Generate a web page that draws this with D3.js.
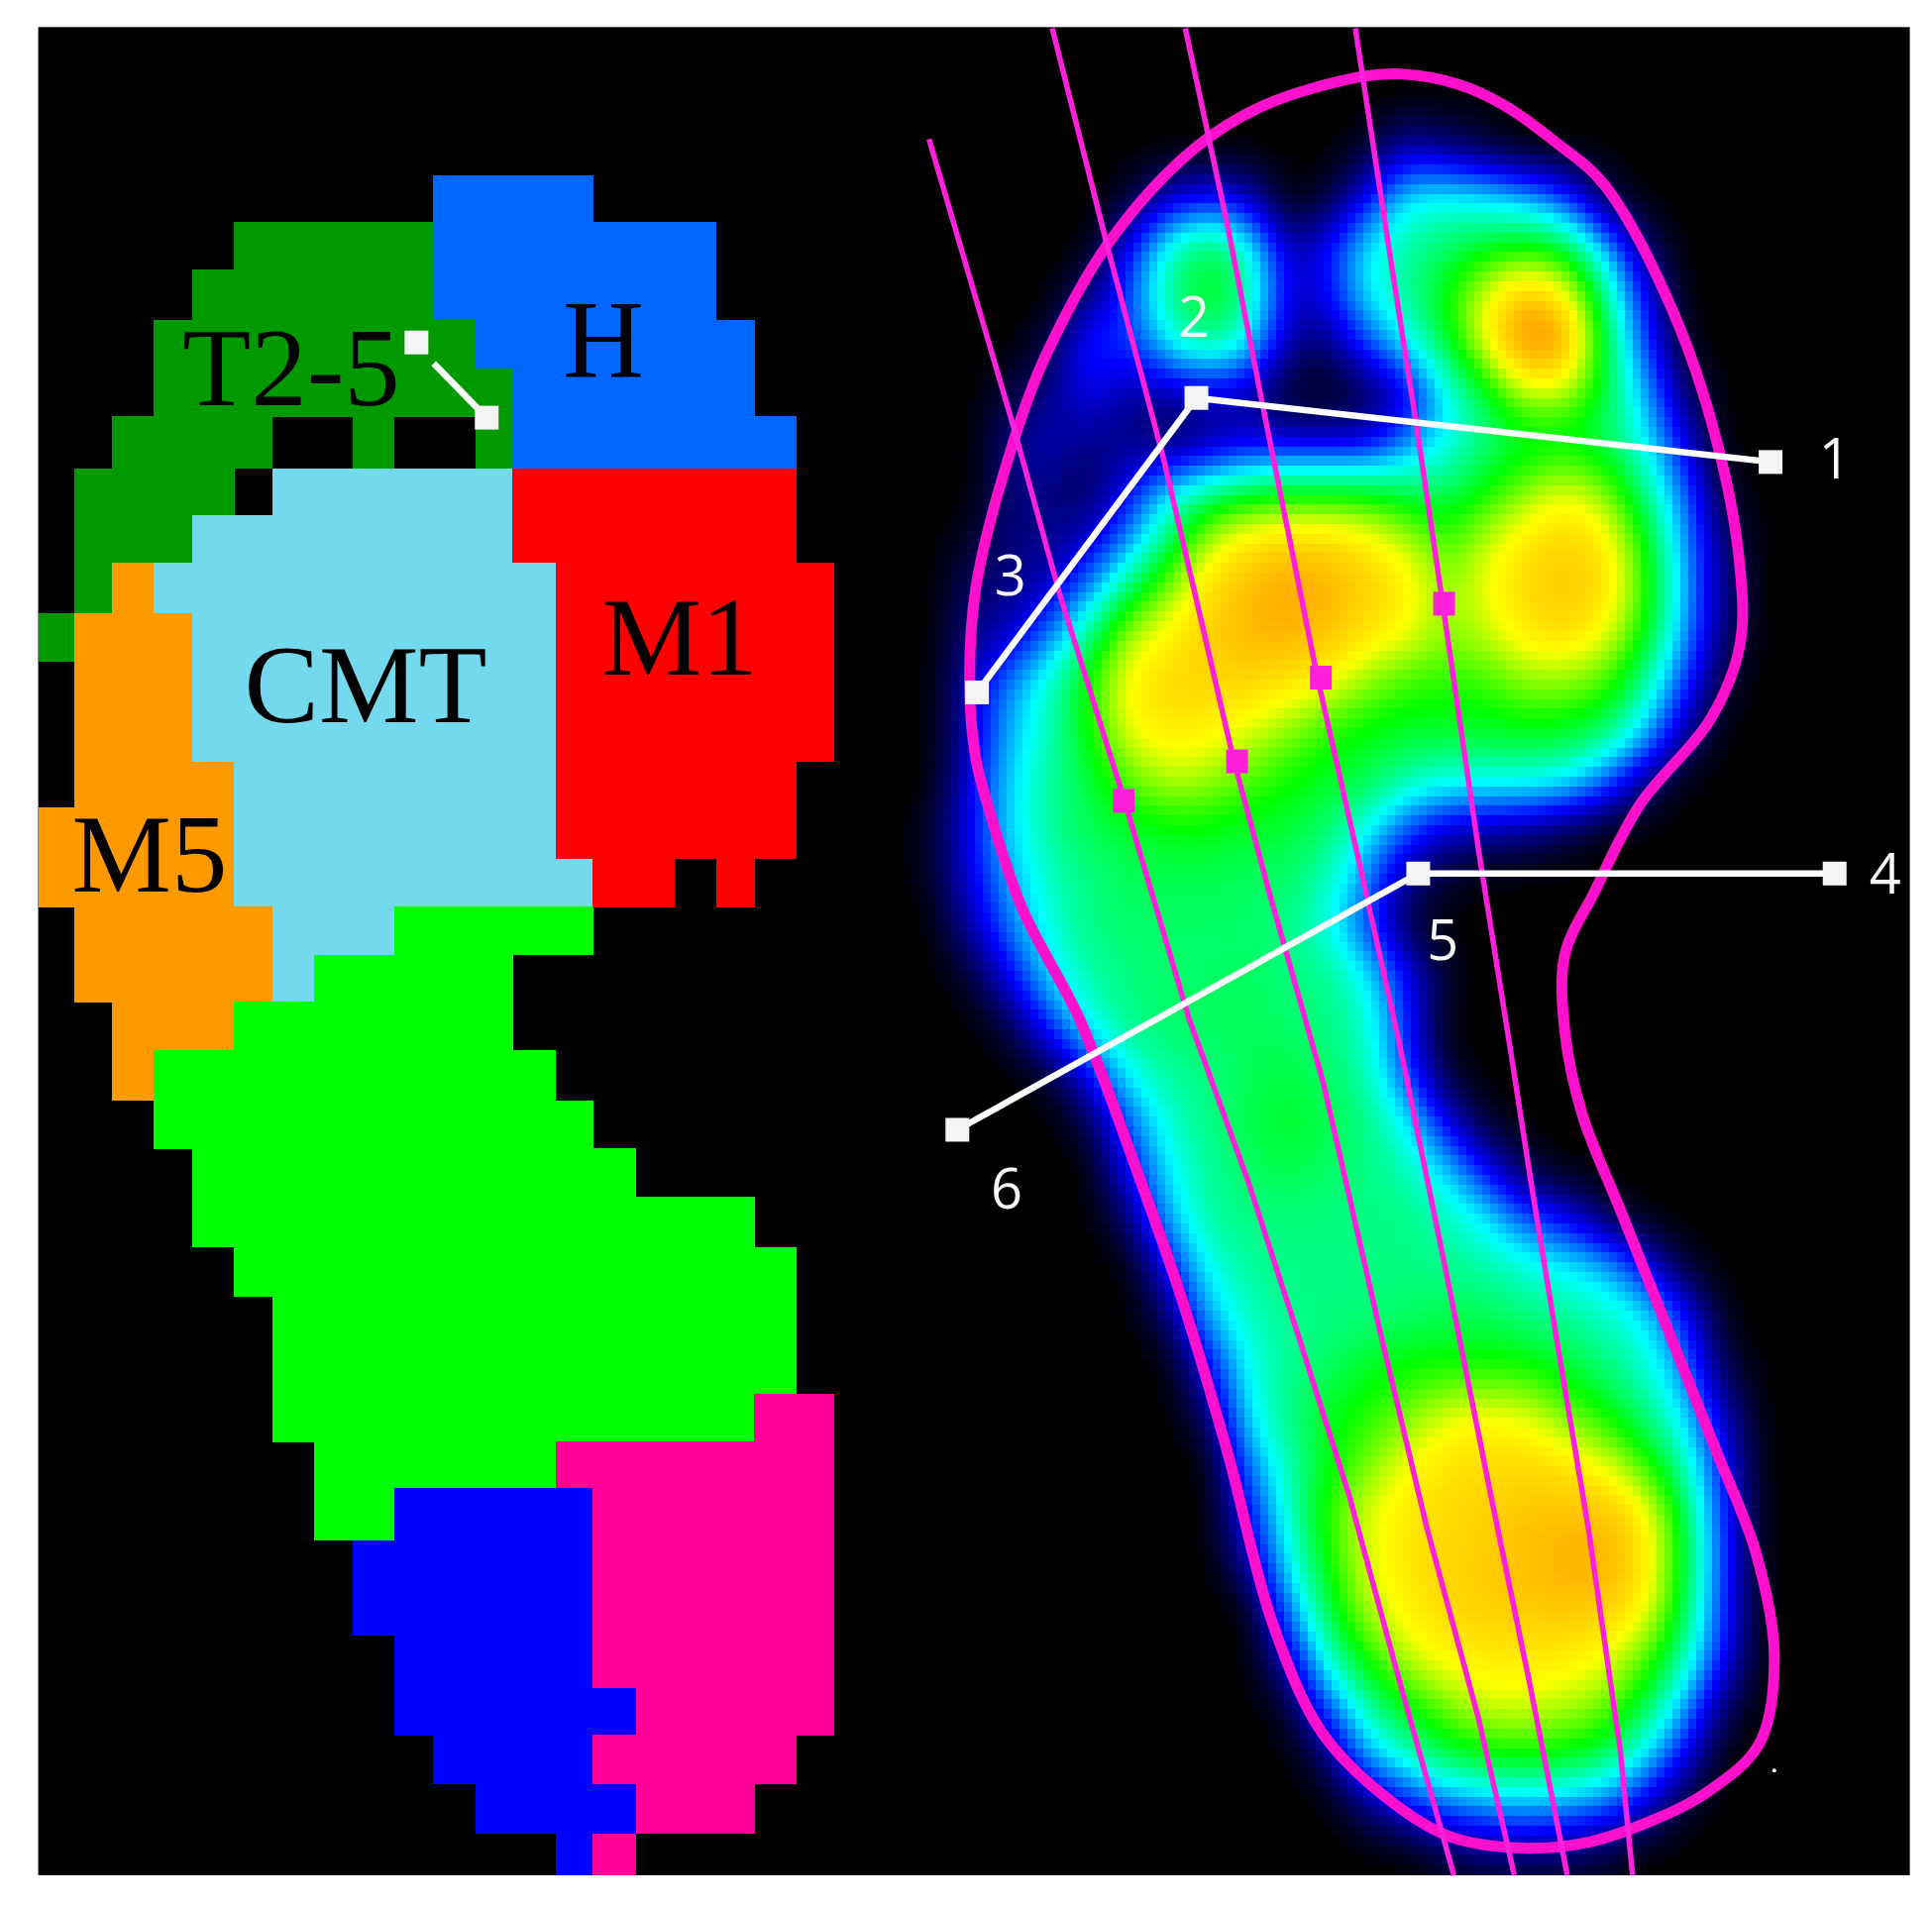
<!DOCTYPE html>
<html>
<head>
<meta charset="utf-8">
<style>
  html, body { margin: 0; padding: 0; background: #fff; }
  svg { display: block; }
</style>
<script src="https://cdn.jsdelivr.net/npm/d3@7"></script>
</head>
<body>
<svg id="chart" width="1950" height="1924"></svg>
<script>
//region map, one string per sensor row, one letter per sensor column
var regionRows = [
  "..........HHHH......",
  ".....TTTTTHHHHHHH...",
  "....TTTTTTHHHHHHH...",
  "...TTTTTTTTHHHHHHH..",
  "...TTTTTTTTTHHHHHH..",
  "..TTTT..T..THHHHHHH.",
  ".TTTT.CCCCCCRRRRRRR.",
  ".TTTCCCCCCCCRRRRRRR.",
  ".TOCCCCCCCCCCRRRRRRR",
  "TOOOCCCCCCCCCRRRRRRR",
  ".OOOCCCCCCCCCRRRRRRR",
  ".OOOCCCCCCCCCRRRRRRR",
  ".OOOOCCCCCCCCRRRRRR.",
  "OOOOOCCCCCCCCRRRRRR.",
  "OOOOOCCCCCCCCCRR.R..",
  ".OOOOOCCCGGGGG......",
  ".OOOOOCGGGGG........",
  "..OOOGGGGGGG........",
  "..OGGGGGGGGGG.......",
  "...GGGGGGGGGGG......",
  "....GGGGGGGGGGG.....",
  "....GGGGGGGGGGGGGG..",
  ".....GGGGGGGGGGGGGG.",
  "......GGGGGGGGGGGGG.",
  "......GGGGGGGGGGGGG.",
  "......GGGGGGGGGGGGPP",
  ".......GGGGGGPPPPPPP",
  ".......GGBBBBBPPPPPP",
  "........BBBBBBPPPPPP",
  "........BBBBBBPPPPPP",
  ".........BBBBBPPPPPP",
  ".........BBBBBBPPPPP",
  "..........BBBBPPPPP.",
  "...........BBBBPPP..",
  ".............BP....."
];
var regionKeys = ["T", "H", "C", "R", "O", "G", "B", "P"];
var regionColors = ["#009900", "#0066ff", "#75d9ee", "#ff0000", "#ff9900", "#00ff00", "#0000ff", "#ff0099"];
var regionNames = ["T2-5", "H", "CMT", "M1", "M5"];
var regionNameX = [294, 609, 369, 686, 151];
var regionNameY = [409, 380, 729, 681, 900];

//the sensor cells of the original are not even, so the cell borders are kept
var regionColEdges = [31,60,91,125,156,190,221,255,286,320,351,386,416,451,481,516,547,581,612,646,677];
var regionRowEdges = [142,180,219,260,299,338,380,418,457,498,537,577,618,655,697,736,775,813,852,893,932,971,1012,1052,1091,1131,1170,1208,1250,1288,1327,1370,1408,1448,1488,1522];

//pressure, 0 = black, 10 = orange
var pressure = [
  [0,0,0,0,0,0,0,0,0,0,0,.3,1.5,1,.5,0,0,0,0,0,0,0],
  [0,0,0,0,0,.3,1.5,2,1.5,0,.3,2,4,4.2,4,3.5,2.5,.5,0,0,0,0],
  [0,0,0,0,0,2,4.5,5.6,4.5,1.2,2,4,4.8,5.2,5.6,6,5.6,3.5,.8,0,0,0],
  [0,0,0,0,1,2.5,5,6,5,1.5,1.8,4,4.8,6,8,9.5,8.5,5,2,0,0,0],
  [0,0,0,.5,2.5,2.2,4,5,4,1.2,.8,2.5,4,5.5,8,10.5,10,5.5,2.5,.2,0,0],
  [0,0,.5,1,2,1.2,1.2,1.5,1.2,.2,0,.5,1.5,4,5.5,7.5,7.5,5.5,3.5,.8,0,0],
  [0,0,1,1.5,1,1,.5,1,1.5,1.5,1.5,1.5,3,4,5,5.5,5.5,5.3,4,1.8,0,0],
  [0,0,1,1,.6,2,3.8,4.8,5.5,5.8,5.8,5.8,5.2,5.2,6,7,8,7,5,2.8,.3,0],
  [0,.3,1,1,1.5,3,5.2,7.5,8.5,8.8,8.8,8.3,7.5,6.3,7.5,8.5,8.8,8.5,6,3.2,.8,0],
  [0,.8,1,1.5,3,5.2,7,8.7,9.3,9.8,9.5,9,8.4,7,8,8.8,9.2,8.8,6.5,3.4,1,0],
  [0,1,1.5,3,5,7.5,8.3,9,9.4,9.5,9.2,8.5,8,7,7.5,8.4,8.7,8,6,3.2,.8,0],
  [0,1.5,3.2,4.5,6.2,8.3,8.8,8.8,8.8,8.5,8,7,6.3,6.2,6.3,7,7,6.5,4.8,2.4,.3,0],
  [0,1.5,3.5,4.5,6,8,8.4,8.2,7.7,7,6.2,5.8,5.7,5.7,5.7,5.8,5.7,5.2,3.7,1.2,0,0],
  [0,1.8,3.8,4.8,5.5,6.6,7.5,7.2,6.6,6,5.7,5.5,4.6,4.2,4.2,4.2,4,2.8,.9,0,0,0],
  [.3,2,3.8,4.8,5.4,5.6,5.8,5.8,5.6,5.6,5.2,4,2.5,1.5,1.2,1,.5,0,0,0,0,0],
  [.2,1.8,3.4,4.5,5,5.3,5.4,5.4,5.3,5.2,4.6,3,1,.3,0,0,0,0,0,0,0,0],
  [0,1.3,3,4.3,5,5.2,5.2,5.2,5.2,5,4.2,2.5,.5,0,0,0,0,0,0,0,0,0],
  [0,.3,2,3.8,4.7,5,5.2,5.2,5.3,5,5,4,2,.3,0,0,0,0,0,0,0,0],
  [0,0,.5,2.5,4.2,5,5.2,5.3,5.4,5.2,5,4.5,2.2,0,0,0,0,0,0,0,0,0],
  [0,0,0,.3,2,4.2,4.8,5,5.3,5.5,5.2,4.7,2.5,.3,0,0,0,0,0,0,0,0],
  [0,0,0,0,.5,2.8,4.4,5,5.5,5.7,5.5,5,4,1.8,.2,0,0,0,0,0,0,0],
  [0,0,0,0,0,2,4,4.8,5.2,5.5,5.2,5,4.6,3.7,2,.5,0,0,0,0,0,0],
  [0,0,0,0,0,.8,3.5,4.8,5,5,5,5,5,4.6,4,2.6,2,.6,0,0,0,0],
  [0,0,0,0,0,0,2,4.2,4.8,5,5,5,5,4.9,4.7,4.4,4,3.6,2,.3,0,0],
  [0,0,0,0,0,0,.8,3.5,4.5,4.9,5,5,5.2,5.4,5.4,5,4.8,4.5,4,2.2,.1,0],
  [0,0,0,0,0,0,0,2,4.2,4.8,5.2,5.7,6,6,6,6,5.6,5,4.4,3,.5,0],
  [0,0,0,0,0,0,0,.8,4,5,5.8,6.2,6.8,7.8,8,7.8,6.8,6,5,3.8,1.4,0],
  [0,0,0,0,0,0,0,0,3,4.6,5.8,6.8,8,8.5,8.7,8.7,8.5,7.8,6.3,4.6,2,0],
  [0,0,0,0,0,0,0,0,2,4.4,6.3,7.8,8.4,8.7,8.9,9.1,9.2,9.2,8.3,5.5,2.2,0],
  [0,0,0,0,0,0,0,0,1.3,4,6,7.8,8.5,8.8,9,9.3,9.5,9.6,8.7,5.8,2.3,0],
  [0,0,0,0,0,0,0,0,0,3,5.5,7.5,8.3,8.8,9,9.1,9.2,9.1,8.3,5.5,2.2,0],
  [0,0,0,0,0,0,0,0,0,1.5,4.5,6.2,7.7,8.2,8.4,8.4,8.4,8,6.8,4.8,2,0],
  [0,0,0,0,0,0,0,0,0,.3,2.8,4.8,6,7,7.8,7.8,7.5,7,5.6,3.4,.8,0],
  [0,0,0,0,0,0,0,0,0,0,.8,3.5,4.6,5.6,6,6.2,6,5.5,4,2,0,0],
  [0,0,0,0,0,0,0,0,0,0,0,1,2.2,3,3.4,3.6,3.4,3,1.8,.3,0,0],
  [0,0,0,0,0,0,0,0,0,0,0,0,0,.6,1,1,.9,.5,0,0,0,0]
];
var pressureStops = [0, 1, 2, 3, 4, 5, 6, 7, 8, 9, 10];
var pressureColors = ["#000000", "#000080", "#0000ff", "#0080ff", "#00ffff", "#00ff80", "#00ff00", "#80ff00", "#ffff00", "#ffcc00", "#ff9900"];

//foot outline and the axes, in the coordinates of the picture
var outlineX = [1137,1182,1220,1262,1302,1357,1393,1412,1412,1388,1331,1294,1270,1270,1284,1315,1352,1393,1425,1440,1428,1385,1340,1290,1235,1175,1120,1072,1033,996,959,923,876,829,800,792,787,792,823,849,902,970,1027,1106];
var outlineY = [60,68,85,115,150,251,357,459,524,584,653,724,775,837,904,982,1075,1178,1260,1344,1415,1455,1478,1495,1500,1490,1455,1405,1318,1178,1054,951,827,736,648,616,560,477,357,288,194,120,85,62];
var axisX = [
  [754,823,860,912,965,1012,1054,1095,1137,1180],
  [854,899,944,1001,1030,1074,1121,1158,1200,1229],
  [962,996,1025,1069,1106,1137,1179,1210,1242,1272],
  [1100,1127,1150,1171,1200,1226,1242,1263,1289,1315,1325]
];
var axisY = [
  [113,348,482,648,827,956,1085,1214,1369,1522],
  [23,201,371,616,724,879,1085,1240,1395,1522],
  [23,182,330,549,713,853,1059,1214,1369,1522],
  [23,200,348,491,690,853,956,1085,1240,1421,1522]
];
var axisMarkX = [912, 1004, 1072, 1172];
var axisMarkY = [650, 618, 550, 490];

//white measuring lines
var guideX = [[1437,971,793], [1489,1151,777], [338,395]];
var guideY = [[375,323,562], [709,709,917], [278,339]];
var numberLabels = ["1", "2", "3", "4", "5", "6"];
var numberX = [1489, 969, 820, 1530, 1171, 817];
var numberY = [372, 257, 467, 709, 763, 965];

var svg = d3.select("#chart");

//picture coordinates to page pixels
var px = d3.scaleLinear().domain([0, 1568]).range([0, 1950]);
var py = d3.scaleLinear().domain([0, 1547]).range([0, 1924]);

svg.append("clipPath").attr("id", "frame")
  .append("rect")
  .attr("x", px(31)).attr("y", py(22))
  .attr("width", px(1550) - px(31)).attr("height", py(1522) - py(22));

svg.append("rect")
  .attr("x", px(31)).attr("y", py(22))
  .attr("width", px(1550) - px(31)).attr("height", py(1522) - py(22))
  .attr("fill", "#000");

//-- region map
var regionColor = d3.scaleOrdinal().domain(regionKeys).range(regionColors);
var regionCells = [];
regionRows.forEach(function(row, r) {
  row.split("").forEach(function(k, c) {
    if (k !== ".") regionCells.push({ r: r, c: c, k: k });
  });
});
svg.append("g").attr("shape-rendering", "crispEdges")
  .selectAll("rect")
  .data(regionCells)
  .enter()
  .append("rect")
  .attr("x", function(d) { return px(regionColEdges[d.c]); })
  .attr("y", function(d) { return py(regionRowEdges[d.r]); })
  .attr("width", function(d) { return px(regionColEdges[d.c + 1]) - px(regionColEdges[d.c]) + 0.5; })
  .attr("height", function(d) { return py(regionRowEdges[d.r + 1]) - py(regionRowEdges[d.r]) + 0.5; })
  .attr("fill", function(d) { return regionColor(d.k); });

svg.append("g")
  .selectAll("text")
  .data(regionNames)
  .enter()
  .append("text")
  .attr("x", function(d, i) { return regionNameX[i]; })
  .attr("y", function(d, i) { return regionNameY[i]; })
  .attr("text-anchor", "middle")
  .attr("font-family", "'Liberation Serif', serif")
  .attr("font-size", 113)
  .attr("fill", "#000")
  .text(function(d) { return d; });

//-- pressure map: each sensor cell is split in 5 and the result smoothed
var sub = 5;
var pad = 1;
var cols = pressure[0].length;
var rows = pressure.length;
var fineW = (cols + 2 * pad) * sub;
var fineH = (rows + 2 * pad) * sub;
var fine = new Float64Array(fineW * fineH);
for (var fy = 0; fy < fineH; fy++) {
  for (var fx = 0; fx < fineW; fx++) {
    var row = pressure[Math.floor(fy / sub) - pad];
    var val = row ? row[Math.floor(fx / sub) - pad] : 0;
    fine[fy * fineW + fx] = val || 0;
  }
}
d3.blur2({ data: fine, width: fineW, height: fineH }, 2);

var heatX = d3.scaleLinear().domain([0, fineW]).range([880, 1840]);
var heatY = d3.scaleLinear().domain([0, fineH]).range([78, 1941]);
var heatColor = d3.scaleLinear().domain(pressureStops).range(pressureColors).clamp(true);
var heatCells = [];
for (var i = 0; i < fine.length; i++) {
  if (fine[i] > 0.08) heatCells.push({ x: i % fineW, y: Math.floor(i / fineW), v: fine[i] });
}
svg.append("g").attr("shape-rendering", "crispEdges").attr("clip-path", "url(#frame)")
  .selectAll("rect")
  .data(heatCells)
  .enter()
  .append("rect")
  .attr("x", function(d) { return heatX(d.x); })
  .attr("y", function(d) { return heatY(d.y); })
  .attr("width", heatX(1) - heatX(0) + 0.5)
  .attr("height", heatY(1) - heatY(0) + 0.5)
  .attr("fill", function(d) { return heatColor(d.v); });

//-- foot outline
var outlinePoints = outlineX.map(function(x, i) { return [x, outlineY[i]]; });
var outlineLine = d3.line()
  .x(function(d) { return px(d[0]); })
  .y(function(d) { return py(d[1]); })
  .curve(d3.curveCatmullRomClosed);
svg.append("path")
  .attr("d", outlineLine(outlinePoints))
  .attr("fill", "none")
  .attr("stroke", "#ff10cc")
  .attr("stroke-width", 11);

//-- axes
var plainLine = d3.line()
  .x(function(d) { return px(d[0]); })
  .y(function(d) { return py(d[1]); });
axisX.forEach(function(xs, a) {
  svg.append("path")
    .attr("d", plainLine(xs.map(function(x, i) { return [x, axisY[a][i]]; })))
    .attr("fill", "none")
    .attr("stroke", "#ff20dc")
    .attr("stroke-width", 5.5);
});
svg.append("g")
  .selectAll("rect")
  .data(axisMarkX)
  .enter()
  .append("rect")
  .attr("x", function(d) { return px(d) - 11; })
  .attr("y", function(d, i) { return py(axisMarkY[i]) - 12; })
  .attr("width", 22)
  .attr("height", 24)
  .attr("fill", "#ff20dc");

//-- white lines and handles
guideX.forEach(function(xs, g) {
  var pts = xs.map(function(x, i) { return [x, guideY[g][i]]; });
  //the short line in the toe region starts clear of its handle
  var linePts = g < 2 ? pts : [[352, 295], pts[1]];
  svg.append("path")
    .attr("d", plainLine(linePts))
    .attr("fill", "none")
    .attr("stroke", "#fff")
    .attr("stroke-width", 6.5);
  svg.append("g")
    .selectAll("rect")
    .data(pts)
    .enter()
    .append("rect")
    .attr("x", function(d) { return px(d[0]) - 12; })
    .attr("y", function(d) { return py(d[1]) - 12; })
    .attr("width", 24)
    .attr("height", 24)
    .attr("fill", "#f4f4f4");
});

svg.append("g")
  .selectAll("text")
  .data(numberLabels)
  .enter()
  .append("text")
  .attr("x", function(d, i) { return px(numberX[i]); })
  .attr("y", function(d, i) { return py(numberY[i]); })
  .attr("dy", "0.36em")
  .attr("text-anchor", "middle")
  .attr("font-family", "'Open Sans', 'Noto Sans', sans-serif")
  .attr("font-size", 56)
  .attr("fill", "#f6f6f6")
  .text(function(d) { return d; });

//stray white pixel below the heel
svg.append("circle")
  .attr("cx", px(1440)).attr("cy", py(1437)).attr("r", 2)
  .attr("fill", "#fff");
</script>
</body>
</html>
